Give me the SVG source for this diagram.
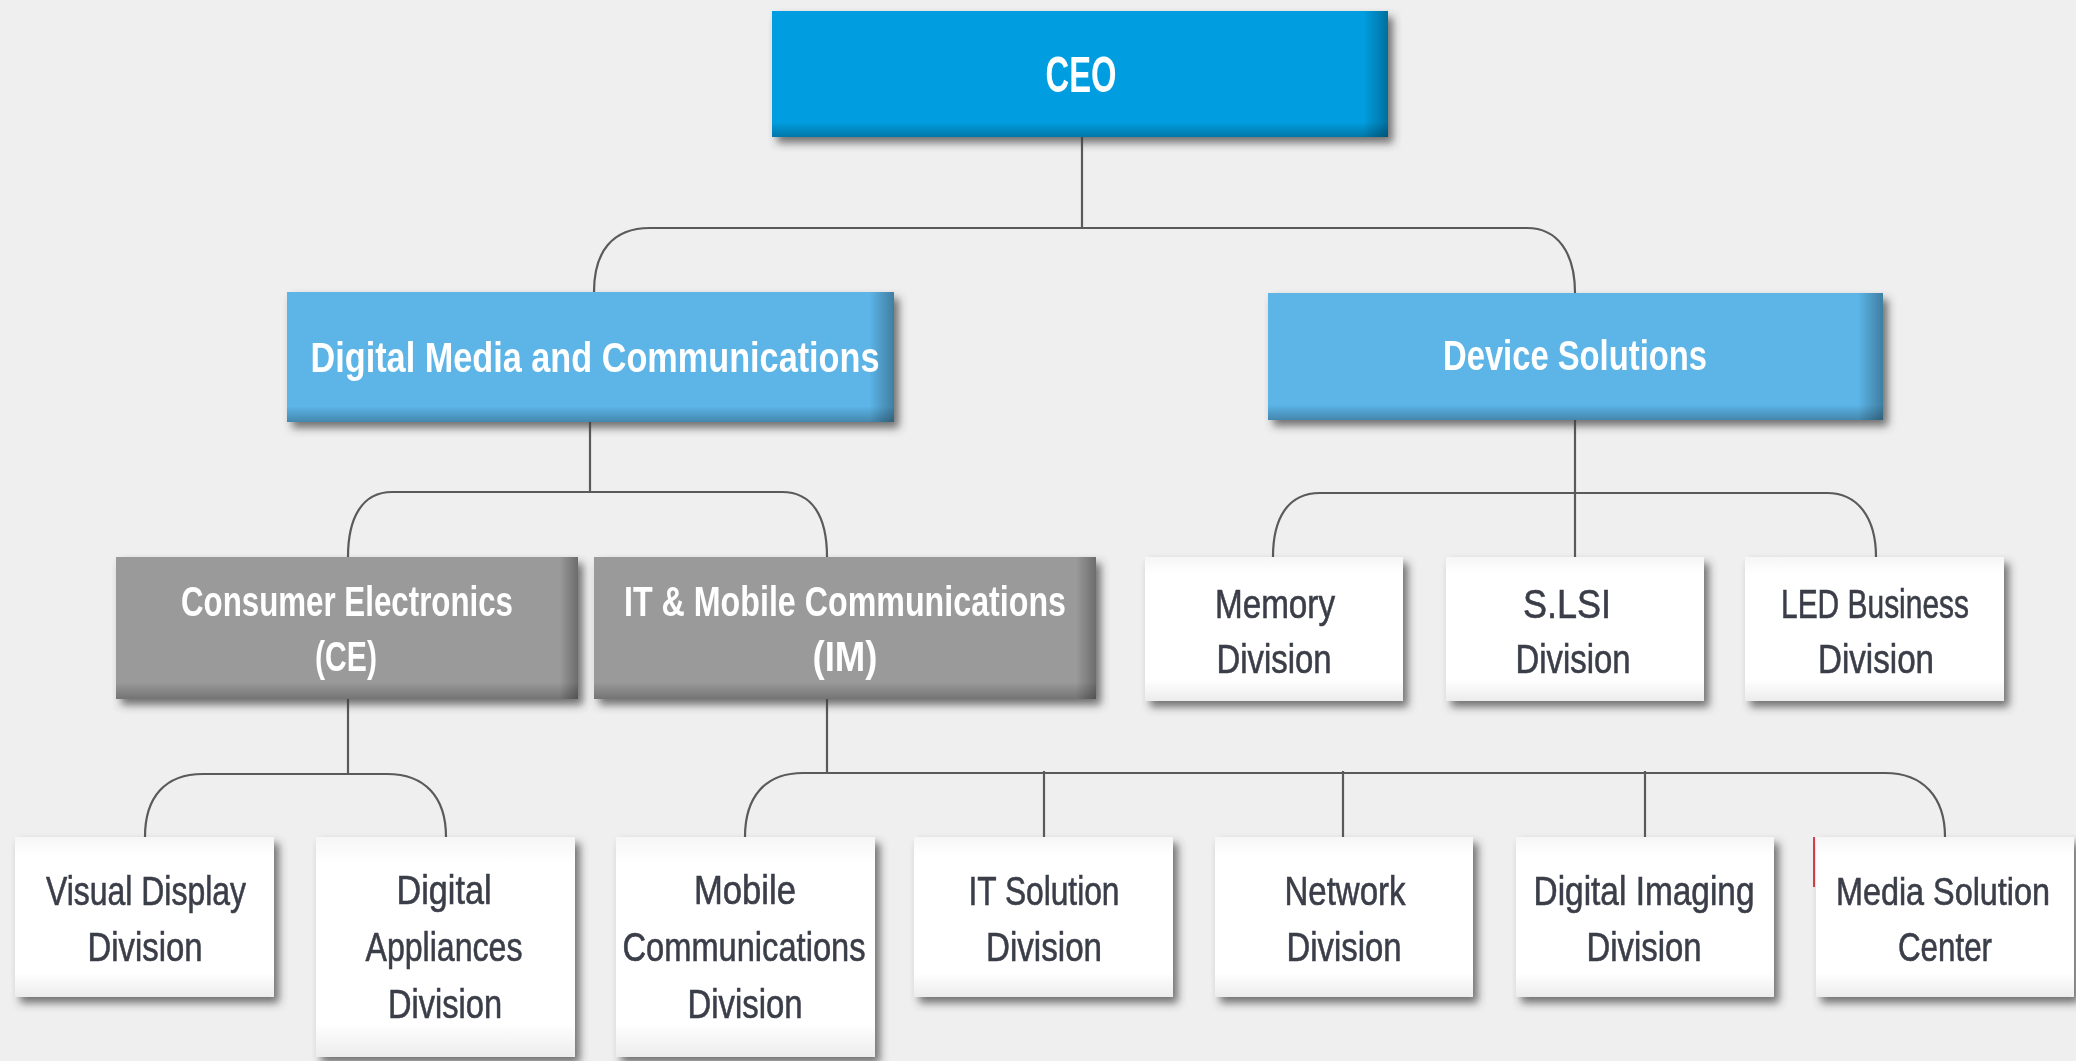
<svg xmlns="http://www.w3.org/2000/svg" width="2076" height="1061" viewBox="0 0 2076 1061">
<style>
.bg{fill:#efefef}
.conn path{fill:none;stroke:#5a5a5a;stroke-width:2.2}
.ceo{fill:#009ee0}
.blue{fill:#5bb4e7}
.gray{fill:#9a9a9a}
.white{fill:url(#wg)}
.er{fill:url(#edgeR)}
.eb{fill:url(#edgeB)}
.ht{font-family:"Liberation Sans",Arial,sans-serif;font-weight:bold;fill:#ffffff;text-anchor:middle}
.bt{font-family:"Liberation Sans",Arial,sans-serif;fill:#3a3e48;stroke:#3a3e48;stroke-width:0.6;text-anchor:middle;font-size:40px}
</style>
<defs>
<filter id="sh" x="-10%" y="-10%" width="125%" height="135%">
<feGaussianBlur in="SourceAlpha" stdDeviation="4"/>
<feOffset dx="5" dy="6" result="b"/>
<feFlood flood-color="#3c3c3c" flood-opacity="0.7"/>
<feComposite in2="b" operator="in"/>
<feMerge><feMergeNode/><feMergeNode in="SourceGraphic"/></feMerge>
</filter>
<linearGradient id="edgeR" x1="0" y1="0" x2="1" y2="0">
<stop offset="0" stop-color="#000" stop-opacity="0"/>
<stop offset="0.96" stop-color="#000" stop-opacity="0"/>
<stop offset="1" stop-color="#000" stop-opacity="0.3"/>
</linearGradient>
<linearGradient id="edgeB" x1="0" y1="0" x2="0" y2="1">
<stop offset="0" stop-color="#000" stop-opacity="0"/>
<stop offset="0.88" stop-color="#000" stop-opacity="0"/>
<stop offset="1" stop-color="#000" stop-opacity="0.25"/>
</linearGradient>
<linearGradient id="wg" x1="0" y1="0" x2="0" y2="1">
<stop offset="0" stop-color="#f6f6f6"/>
<stop offset="0.12" stop-color="#ffffff"/>
<stop offset="0.85" stop-color="#ffffff"/>
<stop offset="1" stop-color="#ececec"/>
</linearGradient>
</defs>
<rect class="bg" x="0" y="0" width="2076" height="1061"/>

<g id="connectors" class="conn">
<path d="M1082 137 V228"/>
<path d="M594 292 C594 252 612 228 650 228 H1527 C1557 228 1575 252 1575 293"/>
<path d="M590 422 V492"/>
<path d="M348 557 C348 518 362 492 392 492 H782 C812 492 827 516 827 557"/>
<path d="M1575 420 V557"/>
<path d="M1273 557 C1273 518 1288 493 1320 493 H1827 C1858 493 1876 518 1876 557"/>
<path d="M348 699 V774"/>
<path d="M145 837 C145 797 165 774 203 774 H387 C425 774 446 797 446 837"/>
<path d="M827 699 V773"/>
<path d="M745 837 C745 797 765 773 803 773 H1885 C1923 773 1945 797 1945 837"/>
<path d="M1044 771 V837"/>
<path d="M1343 771 V837"/>
<path d="M1645 771 V837"/>
<path d="M1814 837 V887" style="stroke:#d8404a;stroke-width:2"/>
</g>

<g id="ceo" filter="url(#sh)">
<rect class="ceo" x="772" y="11" width="616" height="126"/>
<rect class="er" x="772" y="11" width="616" height="126"/>
<rect class="eb" x="772" y="11" width="616" height="126"/>
<text class="ht" x="1081" y="92" font-size="50" textLength="71" lengthAdjust="spacingAndGlyphs">CEO</text>
</g>

<g id="dmc" filter="url(#sh)">
<rect class="blue" x="287" y="292" width="607" height="130"/>
<rect class="er" x="287" y="292" width="607" height="130"/>
<rect class="eb" x="287" y="292" width="607" height="130"/>
<text class="ht" x="595" y="372" font-size="42" textLength="569" lengthAdjust="spacingAndGlyphs">Digital Media and Communications</text>
</g>

<g id="ds" filter="url(#sh)">
<rect class="blue" x="1268" y="293" width="615" height="127"/>
<rect class="er" x="1268" y="293" width="615" height="127"/>
<rect class="eb" x="1268" y="293" width="615" height="127"/>
<text class="ht" x="1575" y="370" font-size="42" textLength="264" lengthAdjust="spacingAndGlyphs">Device Solutions</text>
</g>

<g id="ce" filter="url(#sh)">
<rect class="gray" x="116" y="557" width="462" height="142"/>
<rect class="er" x="116" y="557" width="462" height="142"/>
<rect class="eb" x="116" y="557" width="462" height="142"/>
<text class="ht" x="347" y="616" font-size="42" textLength="332" lengthAdjust="spacingAndGlyphs">Consumer Electronics</text>
<text class="ht" x="346" y="671" font-size="42" textLength="62" lengthAdjust="spacingAndGlyphs">(CE)</text>
</g>

<g id="im" filter="url(#sh)">
<rect class="gray" x="594" y="557" width="502" height="142"/>
<rect class="er" x="594" y="557" width="502" height="142"/>
<rect class="eb" x="594" y="557" width="502" height="142"/>
<text class="ht" x="845" y="616" font-size="42" textLength="442" lengthAdjust="spacingAndGlyphs">IT &amp; Mobile Communications</text>
<text class="ht" x="845" y="671" font-size="42" textLength="65" lengthAdjust="spacingAndGlyphs">(IM)</text>
</g>

<g id="memory" filter="url(#sh)">
<rect class="white" x="1145" y="557" width="258" height="144"/>
<text class="bt" x="1275" y="618" textLength="120" lengthAdjust="spacingAndGlyphs">Memory</text>
<text class="bt" x="1274" y="673" textLength="115" lengthAdjust="spacingAndGlyphs">Division</text>
</g>

<g id="slsi" filter="url(#sh)">
<rect class="white" x="1446" y="557" width="258" height="144"/>
<text class="bt" x="1567" y="618" textLength="88" lengthAdjust="spacingAndGlyphs">S.LSI</text>
<text class="bt" x="1573" y="673" textLength="115" lengthAdjust="spacingAndGlyphs">Division</text>
</g>

<g id="led" filter="url(#sh)">
<rect class="white" x="1745" y="557" width="259" height="144"/>
<text class="bt" x="1875" y="618" textLength="188" lengthAdjust="spacingAndGlyphs">LED Business</text>
<text class="bt" x="1876" y="673" textLength="116" lengthAdjust="spacingAndGlyphs">Division</text>
</g>

<g id="visual-display" filter="url(#sh)">
<rect class="white" x="15" y="837" width="259" height="160"/>
<text class="bt" x="146" y="905" textLength="200" lengthAdjust="spacingAndGlyphs">Visual Display</text>
<text class="bt" x="145" y="961" textLength="115" lengthAdjust="spacingAndGlyphs">Division</text>
</g>

<g id="digital-appliances" filter="url(#sh)">
<rect class="white" x="316" y="837" width="259" height="220"/>
<text class="bt" x="444" y="904" textLength="95" lengthAdjust="spacingAndGlyphs">Digital</text>
<text class="bt" x="444" y="961" textLength="157" lengthAdjust="spacingAndGlyphs">Appliances</text>
<text class="bt" x="445" y="1018" textLength="114" lengthAdjust="spacingAndGlyphs">Division</text>
</g>

<g id="mobile" filter="url(#sh)">
<rect class="white" x="616" y="837" width="259" height="220"/>
<text class="bt" x="745" y="904" textLength="102" lengthAdjust="spacingAndGlyphs">Mobile</text>
<text class="bt" x="744" y="961" textLength="243" lengthAdjust="spacingAndGlyphs">Communications</text>
<text class="bt" x="745" y="1018" textLength="115" lengthAdjust="spacingAndGlyphs">Division</text>
</g>

<g id="it-solution" filter="url(#sh)">
<rect class="white" x="914" y="837" width="259" height="160"/>
<text class="bt" x="1044" y="905" textLength="151" lengthAdjust="spacingAndGlyphs">IT Solution</text>
<text class="bt" x="1044" y="961" textLength="116" lengthAdjust="spacingAndGlyphs">Division</text>
</g>

<g id="network" filter="url(#sh)">
<rect class="white" x="1215" y="837" width="258" height="160"/>
<text class="bt" x="1345" y="905" textLength="121" lengthAdjust="spacingAndGlyphs">Network</text>
<text class="bt" x="1344" y="961" textLength="115" lengthAdjust="spacingAndGlyphs">Division</text>
</g>

<g id="digital-imaging" filter="url(#sh)">
<rect class="white" x="1516" y="837" width="258" height="160"/>
<text class="bt" x="1644" y="905" textLength="221" lengthAdjust="spacingAndGlyphs">Digital Imaging</text>
<text class="bt" x="1644" y="961" textLength="115" lengthAdjust="spacingAndGlyphs">Division</text>
</g>

<g id="media-solution" filter="url(#sh)">
<rect class="white" x="1816" y="837" width="258" height="160"/>
<text class="bt" x="1943" y="905" font-size="38" style="font-size:38px" textLength="214" lengthAdjust="spacingAndGlyphs">Media Solution</text>
<text class="bt" x="1945" y="961" textLength="94" lengthAdjust="spacingAndGlyphs">Center</text>
</g>
</svg>
